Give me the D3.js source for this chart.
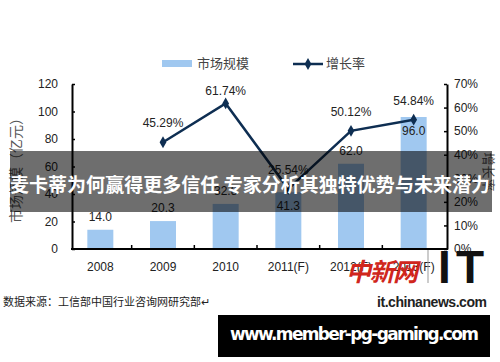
<!DOCTYPE html>
<html>
<head>
<meta charset="utf-8">
<script src="https://cdn.jsdelivr.net/npm/d3@7"></script>
<style>
  body { margin: 0; background: #fff; }
  svg { display: block; }
</style>
</head>
<body>
<svg id="chart" width="500" height="362"></svg>
<script>
// data
var years = ["2008", "2009", "2010", "2011(F)", "2012(F)", "2013(F)"];
var marketSize = [14.0, 20.3, 32.8, 41.3, 62.0, 96.0];       // 亿元
var growth = [null, 0.4529, 0.6174, 0.2554, 0.5012, 0.5484];   // 增长率
var leftTicks = [0, 20, 40, 60, 80, 100, 120];
var rightTicks = [0, 0.1, 0.2, 0.3, 0.4, 0.5, 0.6, 0.7];

var svg = d3.select("#chart");
// plot box (window.top is reserved, so no plain "top" here)
var plotL = 72, plotR = 447, plotT = 84, plotB = 249;

var x = d3.scaleBand().domain(years).range([69, 445]).padding(0);
var y = d3.scaleLinear().domain([0, 120]).range([plotB, plotT]);
var yr = d3.scaleLinear().domain([0, 0.7]).range([plotB, plotT]);
var cx = function(d) { return x(d) + x.bandwidth() / 2; };
var barW = 26;

var font = "'Liberation Sans', Arial, sans-serif";
var cjk = "'Noto Sans CJK SC', sans-serif";

// bars
svg.append("g").selectAll("rect")
  .data(years)
  .enter().append("rect")
    .attr("x", function(d) { return cx(d) - barW / 2; })
    .attr("y", function(d, i) { return y(marketSize[i]); })
    .attr("width", barW)
    .attr("height", function(d, i) { return plotB - y(marketSize[i]); })
    .attr("fill", "#a0c8f0");

// left axis
var gl = svg.append("g").attr("transform", "translate(" + plotL + ",0)")
  .call(d3.axisLeft(y).tickValues(leftTicks).tickSize(-3).tickSizeOuter(0).tickPadding(14));
// right axis
var gr = svg.append("g").attr("transform", "translate(" + plotR + ",0)")
  .call(d3.axisRight(yr).tickValues(rightTicks).tickFormat(d3.format(".0%")).tickSize(-3).tickSizeOuter(0).tickPadding(7));
// bottom axis (labels only, line drawn below)
var gb = svg.append("g").attr("transform", "translate(0," + plotB + ")")
  .call(d3.axisBottom(x).tickSize(0).tickPadding(13));
gb.select(".domain").remove();

[gl, gr, gb].forEach(function(g) {
  g.selectAll("text").attr("font-family", font).attr("font-size", 12).attr("fill", "#222");
  g.select(".domain").attr("stroke", "#000").attr("stroke-width", 2);
  g.selectAll(".tick line").attr("stroke", "#000").attr("stroke-width", 1.5);
});

svg.append("line")
  .attr("x1", plotL - 1).attr("x2", plotR + 1)
  .attr("y1", plotB).attr("y2", plotB)
  .attr("stroke", "#000").attr("stroke-width", 2);
// category boundary ticks
svg.append("g").selectAll("line")
  .data(years.slice(1))
  .enter().append("line")
    .attr("x1", function(d) { return x(d); })
    .attr("x2", function(d) { return x(d); })
    .attr("y1", plotB).attr("y2", plotB - 4)
    .attr("stroke", "#000").attr("stroke-width", 1.5);

// growth line
var pts = years.map(function(d, i) { return { year: d, g: growth[i], v: marketSize[i] }; })
  .filter(function(d) { return d.g !== null; });

svg.append("path")
  .datum(pts)
  .attr("fill", "none")
  .attr("stroke", "#0e2e52")
  .attr("stroke-width", 2.5)
  .attr("d", d3.line().x(function(d) { return cx(d.year); }).y(function(d) { return yr(d.g); }));

svg.append("g").selectAll("path")
  .data(pts)
  .enter().append("path")
    .attr("transform", function(d) { return "translate(" + cx(d.year) + "," + yr(d.g) + ")"; })
    .attr("d", d3.symbol().type(d3.symbolDiamond).size(40))
    .attr("fill", "#0e2e52");

// growth labels
svg.append("g").selectAll("text")
  .data(pts)
  .enter().append("text")
    .attr("x", function(d) { return cx(d.year); })
    .attr("y", function(d) { return Math.max(yr(d.g) - 15, plotT + 11); })
    .attr("text-anchor", "middle")
    .attr("font-family", font).attr("font-size", 12).attr("fill", "#222")
    .text(function(d) { return d3.format(".2%")(d.g); });

// bar value labels: inside the bar when the growth label sits on the bar top
svg.append("g").selectAll("text")
  .data(years)
  .enter().append("text")
    .attr("x", function(d) { return cx(d); })
    .attr("y", function(d, i) {
      var t = y(marketSize[i]);
      var g = growth[i] === null ? -999 : yr(growth[i]);
      return Math.abs(g - t) < 20 ? t + 18 : t - 9;
    })
    .attr("text-anchor", "middle")
    .attr("font-family", font).attr("font-size", 12).attr("fill", "#222")
    .text(function(d, i) { return marketSize[i].toFixed(1); });

// axis titles
svg.append("text")
  .attr("transform", "translate(21,167) rotate(-90)")
  .attr("text-anchor", "middle")
  .attr("font-family", cjk).attr("font-size", 14).attr("fill", "#555")
  .text("市场规模（亿元）");
svg.append("text")
  .attr("transform", "translate(484,172) rotate(90)")
  .attr("text-anchor", "middle")
  .attr("font-family", cjk).attr("font-size", 13).attr("fill", "#555")
  .text("增长率");

// legend
svg.append("rect").attr("x", 162).attr("y", 60).attr("width", 30).attr("height", 7).attr("fill", "#a0c8f0");
svg.append("text").attr("x", 197).attr("y", 68)
  .attr("font-family", cjk).attr("font-size", 13).attr("fill", "#444").text("市场规模");
svg.append("line").attr("x1", 293).attr("x2", 323).attr("y1", 64).attr("y2", 64)
  .attr("stroke", "#0e2e52").attr("stroke-width", 2.5);
svg.append("path").attr("transform", "translate(308,64)")
  .attr("d", d3.symbol().type(d3.symbolDiamond).size(40)).attr("fill", "#0e2e52");
svg.append("text").attr("x", 326).attr("y", 68)
  .attr("font-family", cjk).attr("font-size", 13).attr("fill", "#444").text("增长率");

// source
svg.append("text").attr("x", 3).attr("y", 306)
  .attr("font-family", cjk).attr("font-size", 11).attr("fill", "#222")
  .text("数据来源：工信部中国行业咨询网研究部↵");

// headline banner over the chart
svg.append("rect").attr("x", 10).attr("y", 151).attr("width", 482).attr("height", 61)
  .attr("fill", "rgba(0,0,0,0.57)");
svg.append("text").attr("x", 10).attr("y", 192)
  .attr("font-family", cjk).attr("font-weight", "bold").attr("font-size", 19)
  .attr("fill", "#fff").attr("textLength", 480)
  .text("麦卡蒂为何赢得更多信任 专家分析其独特优势与未来潜力");

// watermark
svg.append("text").attr("x", 346).attr("y", 281)
  .attr("font-family", cjk).attr("font-weight", "bold").attr("font-style", "italic")
  .attr("font-size", 25).attr("fill", "#d0261c").attr("textLength", 72)
  .text("中新网");
svg.append("line").attr("x1", 428).attr("x2", 428).attr("y1", 250).attr("y2", 283)
  .attr("stroke", "#999").attr("stroke-width", 1);
svg.append("text").attr("x", 438).attr("y", 283)
  .attr("font-family", font).attr("font-weight", "bold").attr("font-size", 46)
  .attr("fill", "#111").attr("textLength", 46)
  .text("IT");
svg.append("text").attr("x", 377).attr("y", 307)
  .attr("font-family", font).attr("font-weight", "bold").attr("font-size", 14)
  .attr("fill", "#222").attr("textLength", 110)
  .text("it.chinanews.com");

// bottom link box
svg.append("rect").attr("x", 218).attr("y", 315).attr("width", 272).attr("height", 42).attr("fill", "#000");
svg.append("text").attr("x", 230).attr("y", 340)
  .attr("font-family", "'DejaVu Sans', sans-serif").attr("font-weight", "bold").attr("font-size", 17)
  .attr("fill", "#fff").attr("textLength", 249)
  .text("www.member-pg-gaming.com");
</script>
</body>
</html>
